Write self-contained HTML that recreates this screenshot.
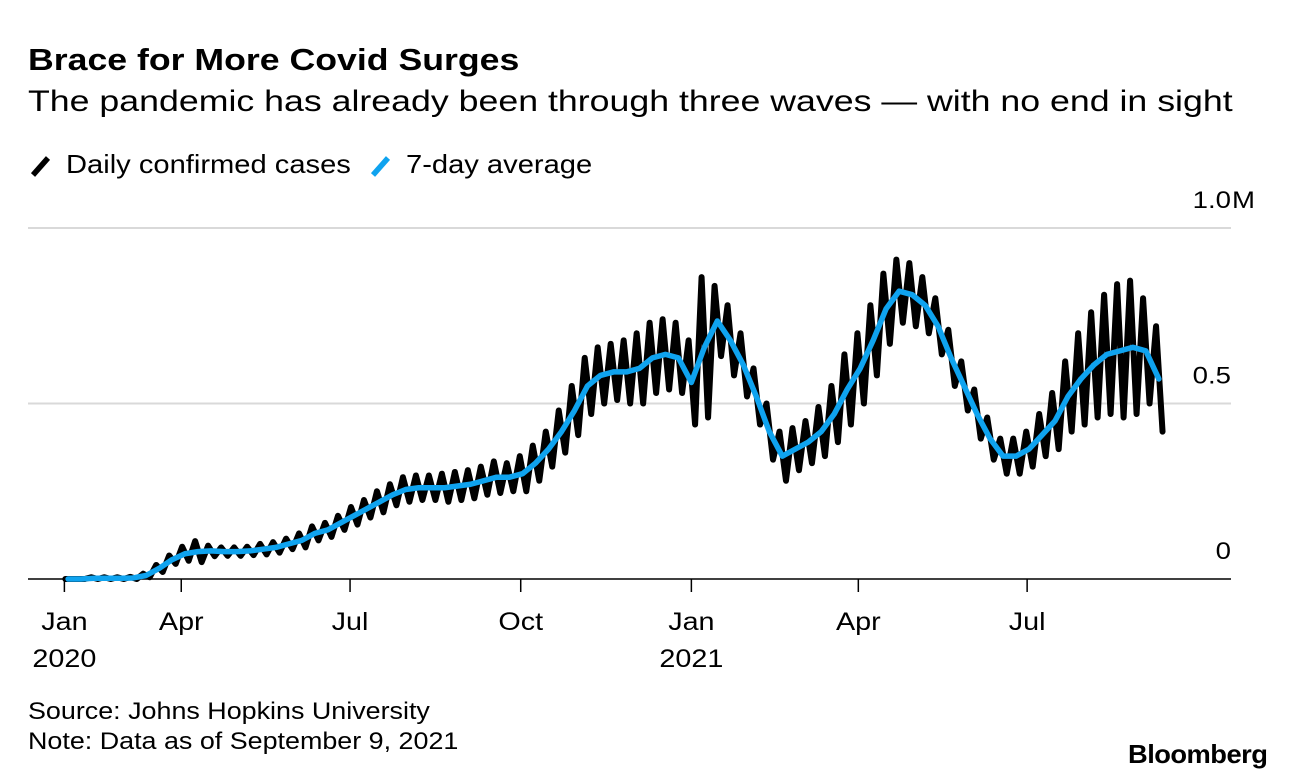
<!DOCTYPE html>
<html><head><meta charset="utf-8">
<style>
body{margin:0;background:#fff;width:1296px;height:780px;overflow:hidden;font-family:"Liberation Sans",sans-serif;color:#000}
.t{position:absolute;white-space:nowrap;transform-origin:0 0}
</style></head><body>
<div class="t" style="left:28px;top:42px;font-size:31px;font-weight:bold;transform:scaleX(1.15)">Brace for More Covid Surges</div>
<div class="t" style="left:28px;top:85px;font-size:30px;transform:scaleX(1.19)">The pandemic has already been through three waves — with no end in sight</div>
<div>
<svg class="t" style="left:28px;top:150px" width="30" height="30"><line x1="5" y1="25" x2="20" y2="8" stroke="#000" stroke-width="5.5" stroke-linecap="butt"/></svg>
<div class="t" style="left:66px;top:149px;font-size:26px;transform:scaleX(1.12)">Daily confirmed cases</div>
<svg class="t" style="left:368px;top:150px" width="30" height="30"><line x1="5" y1="25" x2="20" y2="8" stroke="#0fa3ef" stroke-width="5.5" stroke-linecap="butt"/></svg>
<div class="t" style="left:406px;top:149px;font-size:26px;transform:scaleX(1.12)">7-day average</div>
</div>
<svg id="chart" class="t" style="left:0;top:0" width="1296" height="780"></svg>
<div class="t" style="left:28px;top:698px;font-size:24px;transform:scaleX(1.12)">Source: Johns Hopkins University</div>
<div class="t" style="left:28px;top:728px;font-size:24px;transform:scaleX(1.12)">Note: Data as of September 9, 2021</div>
<div class="t" style="left:1128px;top:739px;font-size:26px;font-weight:bold;letter-spacing:-0.5px;transform:scaleX(1.05)">Bloomberg</div>
<script>
const avgWeekly=[0,0,0.002,0.002,0.002,0.003,0.01,0.03,0.055,0.072,0.078,0.08,0.078,0.078,0.08,0.085,0.09,0.10,0.11,0.13,0.14,0.16,0.18,0.20,0.22,0.24,0.255,0.26,0.26,0.26,0.265,0.27,0.28,0.29,0.29,0.30,0.33,0.37,0.42,0.48,0.55,0.58,0.59,0.59,0.60,0.63,0.64,0.63,0.56,0.66,0.735,0.68,0.61,0.52,0.42,0.35,0.37,0.39,0.42,0.47,0.54,0.60,0.68,0.77,0.82,0.81,0.78,0.72,0.63,0.55,0.47,0.40,0.35,0.35,0.37,0.41,0.45,0.52,0.57,0.61,0.64,0.65,0.66,0.65,0.57];
const swingWeekly=[0,0,0.003,0.003,0.003,0.003,0.005,0.01,0.012,0.02,0.03,0.015,0.012,0.012,0.012,0.015,0.015,0.015,0.02,0.02,0.02,0.02,0.025,0.025,0.03,0.03,0.035,0.035,0.035,0.04,0.04,0.04,0.04,0.045,0.04,0.05,0.05,0.05,0.06,0.07,0.08,0.08,0.08,0.09,0.1,0.1,0.1,0.1,0.12,0.2,0.1,0.1,0.09,0.08,0.08,0.07,0.06,0.06,0.07,0.08,0.1,0.1,0.1,0.1,0.09,0.09,0.08,0.08,0.08,0.07,0.07,0.06,0.05,0.05,0.05,0.06,0.08,0.1,0.13,0.15,0.17,0.19,0.19,0.15,0.15];
const yTicks=[0,0.5,1.0];
const yTickLabels=["0","0.5","1.0"];
const xTicks=[{d:"2020-01-29",l:"Jan",y2:"2020"},{d:"2020-04-01",l:"Apr"},{d:"2020-07-01",l:"Jul"},{d:"2020-10-01",l:"Oct"},{d:"2021-01-01",l:"Jan",y2:"2021"},{d:"2021-04-01",l:"Apr"},{d:"2021-07-01",l:"Jul"}];
const start=Date.UTC(2020,0,22);
const dataStartDay=6;
const ns="http://www.w3.org/2000/svg";
const svg=document.getElementById('chart');
const x0=51.4,pxDay=1.855,SX=1.15;
function dayOf(s){const p=s.split('-');return (Date.UTC(+p[0],p[1]-1,+p[2])-start)/864e5;}
function X(d){return x0+d*pxDay;}
function Y(v){return 579-v*351;}
function mk(t,a){const e=document.createElementNS(ns,t);for(const k in a)e.setAttribute(k,a[k]);svg.appendChild(e);return e;}
function txt(str,x,y,anchor,size){
 const t=mk('text',{transform:'translate('+x+','+y+') scale('+SX+',1)','text-anchor':anchor,'font-size':size,'font-family':'Liberation Sans'});
 t.textContent=str;return t;}
yTicks.forEach((v,i)=>{
 const g=mk('line',{x1:28,x2:1231,y1:Y(v),y2:Y(v),stroke:v===0?'#000':'#d9d9d9','stroke-width':v===0?1.5:2});
 
 
 const t=txt(yTickLabels[i],1231,Y(v)-20,'end',24);
 
 
 if(i===yTicks.length-1){const m=txt('M',1232,Y(v)-20,'start',24);
 
 }
});
xTicks.forEach(tk=>{
 const x=X(dayOf(tk.d));
 const l=mk('line',{x1:x,x2:x,y1:579,y2:592,stroke:'#000','stroke-width':1.5});
 
 
 const t=txt(tk.l,x,630,'middle',25);
 
 
 if(tk.y2){const t2=txt(tk.y2,x,667,'middle',25);
 
 }
});
let dp=[],ap=[];
avgWeekly.forEach((v,i)=>{
 const d=dataStartDay+i*7,s=swingWeekly[i];
 ap.push([X(d+3),Y(v)]);
 dp.push([X(d+1.5),Y(v+s)]);
 dp.push([X(d+5),Y(Math.max(0,v-s))]);
});
const pd=mk('polyline',{points:dp.map(p=>p.join(',')).join(' '),fill:'none',stroke:'#000','stroke-width':6,'stroke-linejoin':'round','stroke-linecap':'round'});


const pa=mk('polyline',{points:ap.map(p=>p.join(',')).join(' '),fill:'none',stroke:'#0fa3ef','stroke-width':5.5,'stroke-linejoin':'round','stroke-linecap':'round'});


</script>
</body></html>
